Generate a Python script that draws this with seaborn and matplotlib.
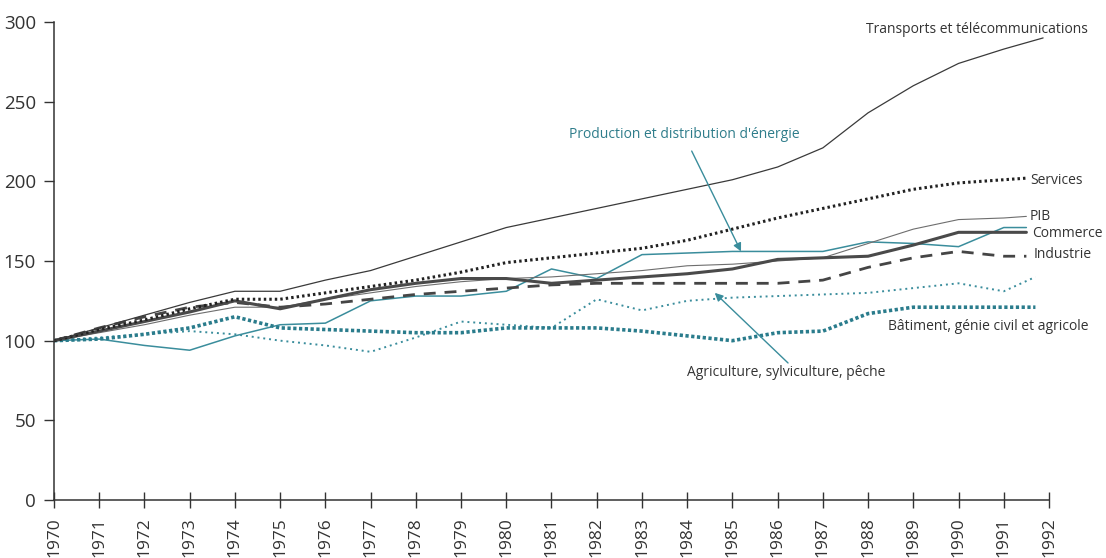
import matplotlib
matplotlib.use('Agg')
import matplotlib.pyplot as plt
import pandas as pd
import seaborn as sns

# annual index values, 1970 = 100; the last point is where each line stops by its label
years = list(range(1970, 1992))

transports = [100, 108, 116, 124, 131, 131, 138, 144, 153, 162, 171, 177,
              183, 189, 195, 201, 209, 221, 243, 260, 274, 283]
services = [100, 107, 113, 120, 126, 126, 130, 134, 138, 143, 149, 152,
            155, 158, 163, 170, 177, 183, 189, 195, 199, 201]
pib = [100, 105, 110, 116, 121, 121, 126, 130, 134, 137, 139, 140,
       142, 144, 147, 148, 150, 152, 161, 170, 176, 177]
commerce = [100, 106, 112, 118, 125, 120, 126, 132, 136, 139, 139, 136,
            138, 140, 142, 145, 151, 152, 153, 160, 168, 168]
industrie = [100, 108, 115, 121, 124, 121, 123, 126, 129, 131, 133, 135,
             136, 136, 136, 136, 136, 138, 146, 152, 156, 153]
energie = [100, 101, 97, 94, 103, 110, 111, 125, 128, 128, 131, 145,
           139, 154, 155, 156, 156, 156, 162, 161, 159, 171]
agriculture = [100, 102, 104, 106, 104, 100, 97, 93, 102, 112, 110, 108,
               126, 119, 125, 127, 128, 129, 130, 133, 136, 131]
batiment = [100, 101, 104, 108, 115, 108, 107, 106, 105, 105, 108, 108,
            108, 106, 103, 100, 105, 106, 117, 121, 121, 121]

# end of each line (x, value)
end_x = {'transports': 1991.87, 'services': 1991.5, 'pib': 1991.5, 'commerce': 1991.5,
         'industrie': 1991.5, 'energie': 1991.5, 'agriculture': 1991.7, 'batiment': 1991.7}
end_y = {'transports': 290, 'services': 202, 'pib': 178, 'commerce': 168,
         'industrie': 153, 'energie': 171, 'agriculture': 140, 'batiment': 121}

TEAL = '#3a8d9c'
TEAL_TXT = '#2f7d8b'
DARK = '#333333'

sns.set_style('ticks')
plt.rcParams['font.family'] = ['Open Sans', 'DejaVu Sans']

fig = plt.figure(figsize=(11.06, 5.58), dpi=100)
ax = fig.add_axes([54 / 1106, 1 - 500 / 558, (1049 - 54) / 1106, (500 - 22) / 558])

series = [
    ('energie', energie, dict(color=TEAL, linewidth=1.1, linestyle='-')),
    ('agriculture', agriculture, dict(color=TEAL, linewidth=1.4, linestyle=(0, (1, 2.0)))),
    ('batiment', batiment, dict(color='#2a7c8c', linewidth=2.6, linestyle=(0, (0.9, 0.7)))),
    ('pib', pib, dict(color='#6e6e6e', linewidth=0.8, linestyle='-')),
    ('industrie', industrie, dict(color='#454545', linewidth=2.0, linestyle=(0, (4.3, 3.2)))),
    ('commerce', commerce, dict(color='#4a4a4a', linewidth=2.2, linestyle='-')),
    ('services', services, dict(color='#222222', linewidth=2.2, linestyle=(0, (0.8, 1.0)))),
    ('transports', transports, dict(color='#3a3a3a', linewidth=0.9, linestyle='-')),
]

for name, vals, kw in series:
    df = pd.DataFrame({'annee': years + [end_x[name]], 'indice': vals + [end_y[name]]})
    sns.lineplot(data=df, x='annee', y='indice', ax=ax, sort=False, estimator=None, **kw)

ax.set_xlim(1970, 1992)
ax.set_ylim(0, 300)
ax.set_xticks(range(1970, 1993))
ax.set_xticklabels([str(y) for y in range(1970, 1993)], rotation=90, fontsize=12.5, color=DARK)
ax.set_yticks(range(0, 301, 50))
ax.set_yticklabels([str(v) for v in range(0, 301, 50)], fontsize=13.5, color=DARK)
ax.set_xlabel('')
ax.set_ylabel('')
ax.tick_params(axis='x', direction='inout', length=11, width=1, color=DARK, pad=7)
ax.tick_params(axis='y', direction='out', length=7, width=1, color=DARK, pad=6)
sns.despine(ax=ax)
for s in ('left', 'bottom'):
    ax.spines[s].set_color(DARK)
    ax.spines[s].set_linewidth(1.1)
ax.set_facecolor('white')

lab = dict(fontsize=10, color=DARK, va='center')
ax.text(1992.86, 295, 'Transports et télécommunications', ha='right', **lab)
ax.text(1991.58, 200.5, 'Services', ha='left', **lab)
ax.text(1991.58, 178, 'PIB', ha='left', **lab)
ax.text(1991.62, 167, 'Commerce', ha='left', **lab)
ax.text(1991.65, 154, 'Industrie', ha='left', **lab)
ax.text(1988.44, 109, 'Bâtiment, génie civil et agricole', ha='left', **lab)
ax.text(1984.0, 80, 'Agriculture, sylviculture, pêche', ha='left', **lab)
ax.text(1981.39, 229.5, "Production et distribution d'énergie", ha='left',
        fontsize=10, color=TEAL_TXT, va='center')

arrow = dict(arrowstyle='-|>', color=TEAL, lw=1.0, mutation_scale=12, shrinkA=0, shrinkB=0)
ax.annotate('', xy=(1985.19, 156), xytext=(1984.1, 219), arrowprops=arrow)
ax.annotate('', xy=(1984.61, 130), xytext=(1986.23, 86), arrowprops=arrow)

fig.savefig('out.png', dpi=100, facecolor='white')
